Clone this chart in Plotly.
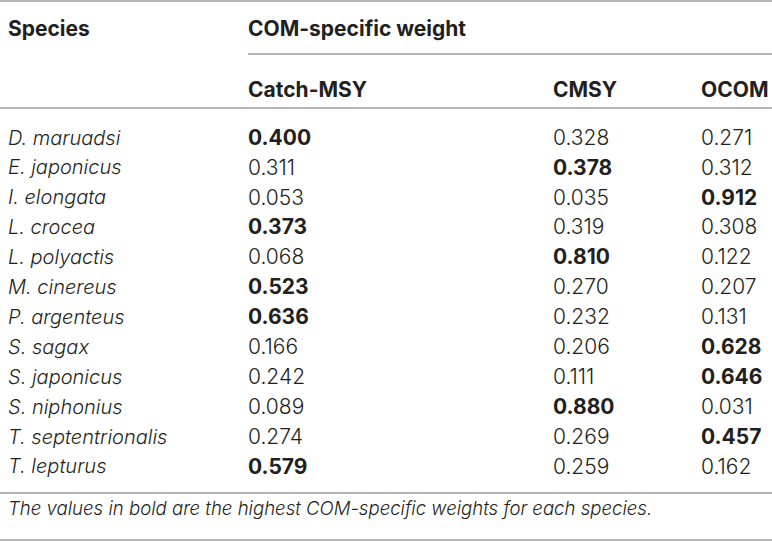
import plotly.graph_objects as go

# table content
species = ["D. maruadsi", "E. japonicus", "I. elongata", "L. crocea", "L. polyactis",
           "M. cinereus", "P. argenteus", "S. sagax", "S. japonicus", "S. niphonius",
           "T. septentrionalis", "T. lepturus"]
catch_msy = [0.400, 0.311, 0.053, 0.373, 0.068, 0.523, 0.636, 0.166, 0.242, 0.089, 0.274, 0.579]
cmsy = [0.328, 0.378, 0.035, 0.319, 0.810, 0.270, 0.232, 0.206, 0.111, 0.880, 0.269, 0.259]
ocom = [0.271, 0.312, 0.912, 0.308, 0.122, 0.207, 0.131, 0.628, 0.646, 0.031, 0.457, 0.162]
col_names = ["Catch-MSY", "CMSY", "OCOM"]
group_title = "COM-specific weight"
first_col = "Species"
footnote = "The values in bold are the highest COM-specific weights for each species."

W, H = 772, 542
FONT = "Inter"
TXT = "#231f20"
LINE = "#9a9a9a"
col_x = [248, 553, 701]
row0, row_h = 139.5, 29.9

fig = go.Figure()

rows_y = [row0 + i * row_h for i in range(len(species))]

# species column
fig.add_trace(go.Scatter(x=[8] * len(species), y=rows_y, mode="text",
                         text=species, textposition="middle right", hoverinfo="skip",
                         textfont=dict(family=FONT, size=20, color=TXT, weight=300, style="italic")))

# value columns, heavier weight = highest weight in the row
cols = [catch_msy, cmsy, ocom]
for j, vals in enumerate(cols):
    weights = []
    for i, v in enumerate(vals):
        best = max(catch_msy[i], cmsy[i], ocom[i])
        weights.append(650 if v == best else 300)
    fig.add_trace(go.Scatter(x=[col_x[j]] * len(vals), y=rows_y, mode="text",
                             text=[f"{v:.3f}" for v in vals], textposition="middle right",
                             hoverinfo="skip",
                             textfont=dict(family=FONT, size=21, color=TXT, weight=weights)))

# headers
fig.add_trace(go.Scatter(x=[8, col_x[0]] + col_x, y=[31, 31, 92, 92, 92], mode="text",
                         text=[first_col, group_title] + col_names,
                         textposition="middle right", hoverinfo="skip",
                         textfont=dict(family=FONT, size=21, color=TXT, weight=700)))

# footnote
fig.add_trace(go.Scatter(x=[8], y=[510], mode="text", text=[footnote],
                         textposition="middle right", hoverinfo="skip",
                         textfont=dict(family=FONT, size=18.6, color=TXT, weight=300, style="italic")))

# rules
for y0, x0 in [(1, 0), (54, 248), (108, 0), (493, 0), (540, 0)]:
    fig.add_shape(type="line", x0=x0, x1=W, y0=y0, y1=y0, xref="x", yref="y",
                  line=dict(color=LINE, width=1.5))

fig.update_xaxes(range=[0, W], visible=False, fixedrange=True)
fig.update_yaxes(range=[H, 0], visible=False, fixedrange=True)
fig.update_layout(width=W, height=H, autosize=False, showlegend=False,
                  margin=dict(l=0, r=0, t=0, b=0),
                  paper_bgcolor="white", plot_bgcolor="white")

fig.write_html("out.html", config={"displayModeBar": False},
               post_script="document.body.style.margin='0';")
